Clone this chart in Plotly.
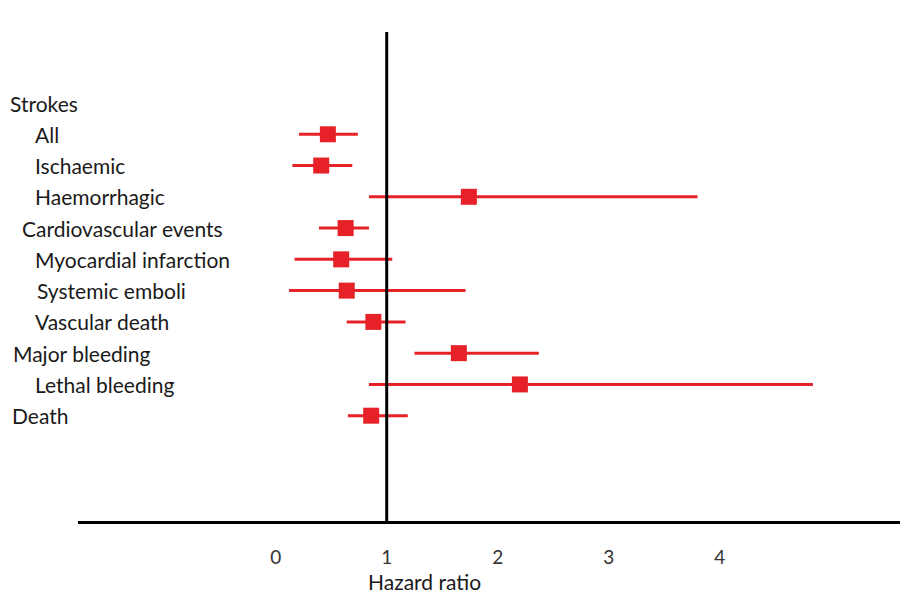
import plotly.graph_objects as go

# ---- data ----
labels = ["Strokes", "All", "Ischaemic", "Haemorrhagic", "Cardiovascular events",
          "Myocardial infarction", "Systemic emboli", "Vascular death",
          "Major bleeding", "Lethal bleeding", "Death"]
hr    = [None, 0.47, 0.41, 1.74, 0.63, 0.59, 0.64, 0.88, 1.65, 2.20, 0.86]
ci_lo = [None, 0.21, 0.15, 0.84, 0.39, 0.17, 0.12, 0.64, 1.25, 0.84, 0.65]
ci_hi = [None, 0.74, 0.69, 3.80, 0.84, 1.05, 1.71, 1.17, 2.37, 4.84, 1.19]
tick_vals = [0, 1, 2, 3, 4]
tick_text = ["0", "1", "2", "3", "4"]
x_title = "Hazard ratio"

# page body has an 8px margin; all pixel targets below are figure coordinates
OFF = 8
# label indentation (window pixels from left edge)
indent_px = [10, 35, 35, 35, 22, 35, 37, 35, 13, 35, 12]

rows = list(range(len(labels)))
pts = [(r, h, lo, hi) for r, h, lo, hi in zip(rows, hr, ci_lo, ci_hi) if h is not None]

RED = "#e62228"
W, H = 908, 602
ML, MR, MT, MB = 78 - OFF, 0, 32 - OFF, 602 - (521 - OFF)

fig = go.Figure()
fig.add_trace(go.Scatter(
    x=[p[1] for p in pts],
    y=[p[0] for p in pts],
    mode="markers",
    marker=dict(symbol="square", size=16, color=RED, line=dict(width=0)),
    error_x=dict(type="data", symmetric=False,
                 array=[p[3] - p[1] for p in pts],
                 arrayminus=[p[1] - p[2] for p in pts],
                 color=RED, thickness=3, width=0),
    showlegend=False,
    hoverinfo="skip",
))

# reference line at HR = 1
fig.add_shape(type="line", xref="x", yref="paper", x0=1, x1=1, y0=0, y1=1,
              line=dict(color="black", width=3), layer="above")

plot_w = W - ML - MR
for lab, px, r in zip(labels, indent_px, rows):
    fig.add_annotation(text=lab, xref="paper", yref="y",
                       x=(px - 2 - OFF - ML) / plot_w, y=r,
                       xanchor="left", yanchor="middle", showarrow=False,
                       font=dict(family="Lato", size=21, color="#1a1a1a"))

fig.add_annotation(text=x_title, xref="x", yref="paper", x=1.34, y=0,
                   yshift=-60, xanchor="center", yanchor="middle", showarrow=False,
                   font=dict(family="Lato", size=21, color="#1a1a1a"))

# pixel mapping: HR 0 -> 275.7 px (window), 111 px per unit
x0_px, per_unit = 275.7 - OFF, 111.0
xmin = (ML - x0_px) / per_unit
xmax = (W - MR - x0_px) / per_unit
# rows: row 0 at 103 px (window), 31.27 px per row
r0_px, per_row = 103.0 - OFF, 31.27
ytop = (MT - r0_px) / per_row
ybot = (H - MB - r0_px) / per_row

fig.update_layout(
    width=W, height=H,
    margin=dict(l=ML, r=MR, t=MT, b=MB),
    paper_bgcolor="white", plot_bgcolor="white",
    xaxis=dict(range=[xmin, xmax], tickvals=tick_vals, ticktext=tick_text,
               showgrid=False, zeroline=False, showline=True, linecolor="black",
               linewidth=3, ticks="", ticklabelstandoff=17,
               tickfont=dict(family="Lato", size=19, color="#333333"),
               fixedrange=True),
    yaxis=dict(range=[ybot, ytop], showgrid=False, zeroline=False, showline=False,
               showticklabels=False, ticks="", fixedrange=True),
)

fig.write_html("out.html")
